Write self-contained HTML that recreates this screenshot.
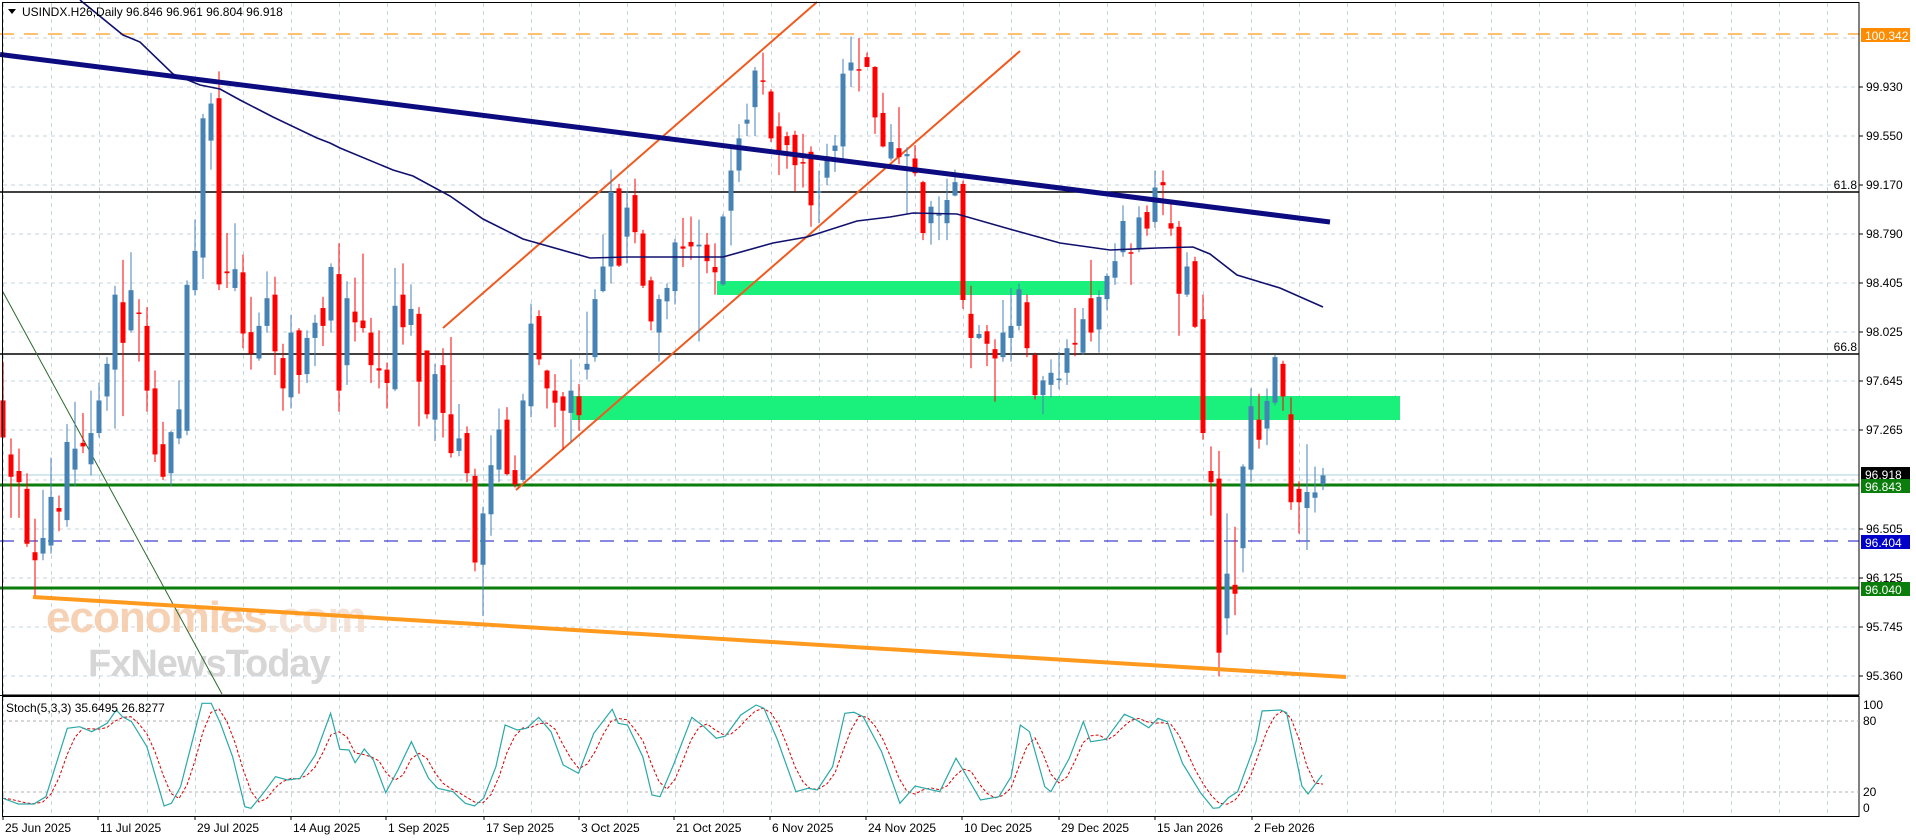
<!DOCTYPE html>
<html><head><meta charset="utf-8"><style>
html,body{margin:0;padding:0;background:#fff;}
svg{display:block;font-family:"Liberation Sans",sans-serif;}
</style></head><body>
<svg id="c" width="1916" height="840" viewBox="0 0 1916 840" xmlns="http://www.w3.org/2000/svg">
<rect width="1916" height="840" fill="#fff"/>
<g id="grid"></g>
<!-- watermark -->
<text x="46" y="632" font-size="44" font-weight="bold" fill="#f6c9a6" opacity="0.85" font-family="Liberation Sans,sans-serif" letter-spacing="-1">economies<tspan fill="#f3ddd0">.com</tspan></text>
<text x="88" y="676" font-size="38" font-weight="bold" fill="#d6d6d6" letter-spacing="-1">FxNewsToday</text>
<!-- zones -->
<rect x="717" y="281" width="390" height="14" fill="#1af07c"/>
<rect x="572" y="396" width="828" height="24" fill="#1af07c"/>
<!-- horizontal levels -->
<line x1="0" y1="34" x2="1859" y2="34" stroke="#ff9a1f" stroke-width="1.3" stroke-dasharray="14,10"/>
<line x1="0" y1="475" x2="1859" y2="475" stroke="#a8d0dc" stroke-width="1"/>
<line x1="0" y1="192" x2="1859" y2="192" stroke="#000" stroke-width="1.6"/>
<line x1="0" y1="354" x2="1859" y2="354" stroke="#000" stroke-width="1.6"/>
<line x1="0" y1="485" x2="1859" y2="485" stroke="#0a7d0a" stroke-width="3"/>
<line x1="0" y1="588" x2="1859" y2="588" stroke="#0a7d0a" stroke-width="3"/>
<line x1="0" y1="541" x2="1859" y2="541" stroke="#1010c0" stroke-width="1" stroke-dasharray="14,10"/>
<text x="1857" y="189" font-size="12" text-anchor="end" fill="#000">61.8</text>
<text x="1857" y="351" font-size="12" text-anchor="end" fill="#000">66.8</text>
<!-- trend lines -->
<line x1="3" y1="292" x2="222" y2="694" stroke="#2a6a2a" stroke-width="1"/>
<line x1="443" y1="328" x2="817" y2="2" stroke="#f05a1e" stroke-width="2"/>
<line x1="516" y1="490" x2="1020" y2="51" stroke="#f05a1e" stroke-width="2"/>
<g id="candles"></g>
<polyline id="ma" fill="none" stroke="#10106e" stroke-width="1.6" points=""/>
<line x1="0" y1="54.5" x2="1330" y2="222" stroke="#0c0c80" stroke-width="5"/>
<line x1="33" y1="597" x2="1346" y2="677" stroke="#ff9a1f" stroke-width="4"/>
<!-- title -->
<polygon points="8,9 16,9 12,14" fill="#000"/>
<text x="22" y="16" font-size="12" fill="#000">USINDX.H26,Daily  96.846 96.961 96.804 96.918</text>
<!-- frames -->
<rect x="2.5" y="2.5" width="1856.5" height="692.5" fill="none" stroke="#000" stroke-width="1"/>
<rect x="2.5" y="696.5" width="1856.5" height="120" fill="none" stroke="#000" stroke-width="1"/>
<line x1="0" y1="695.5" x2="1859" y2="695.5" stroke="#000" stroke-width="1"/>
<!-- stoch -->
<line x1="3" y1="721" x2="1859" y2="721" stroke="#b0b0b0" stroke-dasharray="3,3"/>
<line x1="3" y1="792" x2="1859" y2="792" stroke="#b0b0b0" stroke-dasharray="3,3"/>
<polyline id="sig" fill="none" stroke="#d80000" stroke-width="1" stroke-dasharray="3,2" points=""/>
<polyline id="main" fill="none" stroke="#2aa8a8" stroke-width="1.2" points=""/>
<text x="6" y="712" font-size="12" fill="#000">Stoch(5,3,3) 35.6495 26.8277</text>
<g id="axis" font-size="12" fill="#000"></g>
</svg>
<script>
var NS="http://www.w3.org/2000/svg";
function el(p,t,a,txt){var e=document.createElementNS(NS,t);for(var k in a)e.setAttribute(k,a[k]);if(txt!==undefined)e.textContent=txt;document.getElementById(p).appendChild(e);return e;}
// grid
for(var x=3.5;x<1859;x+=48){el('grid','line',{x1:x,y1:3,x2:x,y2:695,stroke:'#c4d6de','stroke-dasharray':'4,4'});el('grid','line',{x1:x,y1:697,x2:x,y2:816,stroke:'#c4d6de','stroke-dasharray':'4,4'});}
var gy=[38,87,136,185,234,283,332,381,430,480,529,578,627,676];
gy.forEach(function(y){el('grid','line',{x1:3,y1:y,x2:1859,y2:y,stroke:'#c4d6de','stroke-dasharray':'4,4'});});
// candles [top,bottom,high,low,up]
var C=[[897,980,810,980,0],[1018,1068,982,1160,0],[1055,1080,1005,1160,0],[1095,1218,1060,1225,0],[1237,1255,1162,1335,0],[1205,1240,1097,1255,1],[1113,1222,1025,1240,1],[1138,1146,1110,1190,0],[990,1165,950,1180,1],[1005,1052,900,1090,1],[992,1000,925,1015,0],[970,1040,875,1065,1],[897,970,857,980,1],[815,888,800,920,1],[660,828,640,960,1],[677,768,582,932,0],[650,740,565,745,1],[700,703,670,810,0],[730,875,688,922,0],[870,1018,830,1035,0],[995,1068,945,1075,0],[968,1060,965,1090,1],[917,982,852,995,1],[638,965,628,975,1],[562,650,492,662,1],[265,577,255,625,1],[232,315,208,380,1],[220,637,160,650,0],[608,612,522,645,0],[603,645,500,652,1],[610,747,570,780,0],[744,792,665,828,0],[730,803,700,808,1],[668,730,608,745,1],[660,787,620,840,0],[802,870,770,920,0],[745,890,705,915,1],[740,840,735,882,0],[757,838,740,858,1],[723,757,705,820,1],[690,730,665,775,0],[598,718,590,745,1],[614,875,545,922,0],[668,818,630,862,1],[698,722,622,765,0],[718,735,568,745,0],[745,818,712,858,0],[825,830,740,870,0],[828,858,812,915,0],[685,872,600,876,1],[660,733,590,772,0],[692,728,637,752,1],[703,855,688,955,0],[785,928,785,938,0],[838,940,815,988,1],[818,925,780,980,0],
[928,1015,755,1025,0],[982,1010,905,1022,1],[970,1060,955,1080,0],[1066,1260,1050,1280,0],[1150,1265,1135,1380,1],[1042,1152,975,1200,1],[962,1052,915,1080,1],[940,1062,912,1065,0],[1053,1085,1020,1092,0],[897,1075,882,1080,1],[725,910,680,935,1],[708,805,695,818,0],[830,870,828,915,0],[875,902,838,957,0],[888,920,878,1008,0],[875,925,805,990,1],[888,930,860,965,0],[815,828,698,850,1],[670,800,648,810,1],[597,652,525,655,1],[430,597,380,635,1],[422,595,412,598,0],[465,530,428,590,1],[437,520,400,545,0],[523,640,515,645,0],[628,720,620,740,0],[670,745,660,810,1],[645,675,635,715,1],[543,652,535,682,1],[552,557,488,598,0],[542,552,485,582,0],[548,552,492,765,1],[548,585,522,612,0],[598,610,545,660,0],[485,637,480,640,1],[382,472,330,550,1],[310,382,278,408,1],[268,277,232,305,1],[158,240,150,305,1],[180,183,118,212,0],[205,310,200,318,0],[283,345,252,392,0],[305,325,295,378,0],[302,370,293,428,0],[363,366,300,420,0],[340,460,328,508,0],[428,432,382,500,1],[350,398,322,415,1],[326,338,302,385,1],[165,328,132,355,1],[140,158,82,195,1],[155,158,85,205,0],[128,150,118,150,0],[150,263,148,300,0],[253,328,208,330,0],
[318,355,278,360,1],[332,352,240,368,0],[345,350,330,478,1],[355,388,325,395,0],[408,522,405,538,0],[463,500,450,548,1],[480,482,440,538,1],[448,500,400,538,1],[408,438,380,440,1],[412,672,405,692,0],[703,757,640,825,0],[748,757,728,760,1],[742,770,728,820,0],[782,803,760,900,0],[745,800,672,810,1],[730,757,645,810,1],[648,730,635,740,1],[677,780,660,800,0],[795,885,790,895,0],[852,885,842,928,1],[835,862,805,890,1],[848,850,788,872,1],[780,835,760,862,1],[768,772,690,798,0],[715,790,690,795,1],[668,745,582,765,0],[665,738,650,790,1],[618,670,612,695,1],[585,622,545,638,1],[495,565,460,575,1],[565,568,545,638,0],[487,558,462,565,1],[475,512,460,528,0],[420,497,382,510,1],[408,415,382,482,0],[500,512,448,528,0],[508,658,495,752,0],[597,660,565,665,1],[585,732,575,735,0],[715,970,660,985,0],[1055,1080,1000,1155,0],[1072,1462,1010,1515,0],[1285,1385,1150,1422,1],[1310,1330,1180,1378,0],[1045,1228,1040,1282,1],[910,1052,870,1080,1],[940,985,882,1005,0],[898,960,870,997,1],[800,902,795,908,1],[815,888,808,920,0],[928,1125,890,1142,0],[1095,1125,1078,1195,0],[1102,1138,995,1232,1],[1103,1115,1045,1148,1],[1065,1085,1048,1098,1]];
var S=2.24;
C.forEach(function(c,i){var x=3+8*i,col=c[4]?'#4682b4':'#f00';
 el('candles','line',{x1:x,y1:c[2]/S,x2:x,y2:c[3]/S,stroke:col,'stroke-width':1});
 var t=c[0]/S,b=c[1]/S,h=Math.max(b-t,1.5);
 el('candles','rect',{x:x-2.5,y:t,width:5,height:h,fill:col});});
// MA
document.getElementById('ma').setAttribute('points',"80,0 123,35 140,42 173,74 200,85 220,89 240,100 273,117 317,138 330,143 340,148 393,170 413,176 450,196 483,219 523,239 590,258 627,257 723,257 773,243 807,237 857,221 890,217 913,213 957,214 1013,230 1060,243 1110,250 1157,248 1193,247 1210,254 1237,275 1280,288 1323,307");
// stoch
var z3=[[5,355],[30,372],[55,372],[75,350],[110,145],[130,140],[150,155],[175,130],[190,90],[200,110],[215,125],[240,200],[268,378],[280,370],[295,320],[330,70],[345,70],[360,130],[380,230],[400,380],[410,385],[430,340],[450,290],[470,300],[490,295],[515,225],[540,100],[555,208],[570,210],[580,248],[595,207],[610,240],[630,338],[650,270],[672,185],[700,295],[715,325],[740,335],[760,370],[775,378],[790,355],[810,260],[825,135],[845,150],[860,145],[880,112],[900,155],[920,255],[945,280],[970,160],[1000,88],[1010,130],[1025,135],[1050,230],[1065,345],[1078,350],[1100,255],[1130,112],[1150,140],[1170,175],[1185,168],[1210,105],[1235,75],[1248,85],[1270,180],[1300,335],[1320,325],[1335,330],[1360,260],[1380,100],[1395,97],[1410,110],[1440,215],[1470,370],[1495,318],[1535,335]];
var z4=[[0,235],[10,265],[40,360],[70,350],[90,290],[105,135],[120,155],[145,320],[155,335],[185,235],[208,125],[220,185],[245,178],[275,103],[290,115],[315,143],[330,115],[345,125],[370,250],[400,340],[420,385],[430,383],[445,353],[460,335],[490,185],[500,93],[530,90],[540,98],[565,318],[575,342],[598,285]];
var P=[];z3.forEach(function(p){P.push([p[0]*0.6122,680+p[1]/3]);});z4.forEach(function(p){P.push([956+p[0]*0.6122,680+p[1]/3]);});
document.getElementById('main').setAttribute('points',P.map(function(p){return p[0].toFixed(1)+','+p[1].toFixed(1);}).join(' '));
function interp(x){for(var k=0;k<P.length-1;k++){if(x>=P[k][0]&&x<=P[k+1][0]){var f=(x-P[k][0])/(P[k+1][0]-P[k][0]||1);return P[k][1]+f*(P[k+1][1]-P[k][1]);}}return x<P[0][0]?P[0][1]:P[P.length-1][1];}
var v=[];for(var i=0;i<=165;i++)v.push(interp(3+8*i));
var sp=[];for(var i=0;i<=165;i++){var a=v[Math.max(i-2,0)],b=v[Math.max(i-1,0)];sp.push((3+8*i)+','+((a+b+v[i])/3).toFixed(1));}
document.getElementById('sig').setAttribute('points',sp.join(' '));
// axis labels
var L=[[87,'99.930'],[136,'99.550'],[185,'99.170'],[234,'98.790'],[283,'98.405'],[332,'98.025'],[381,'97.645'],[430,'97.265'],[529,'96.505'],[578,'96.125'],[627,'95.745'],[676,'95.360']];
L.forEach(function(l){el('axis','line',{x1:1859,y1:l[0],x2:1863,y2:l[0],stroke:'#000'});el('axis','text',{x:1866,y:l[0]+4},l[1]);});
function box(y,bg,t,fg){el('axis','rect',{x:1861,y:y-7,width:49,height:14,fill:bg});el('axis','text',{x:1865,y:y+5,fill:fg},t);}
box(35,'#ff8c00','100.342','#fff');box(474,'#000','96.918','#fff');box(486,'#0a7d0a','96.843','#fff');box(542,'#0000c8','96.404','#fff');box(589,'#0a7d0a','96.040','#fff');
[[705,'100'],[721,'80'],[792,'20'],[808,'0']].forEach(function(l){el('axis','text',{x:1863,y:l[0]+4},l[1]);});
var D=[[3,'25 Jun 2025'],[98,'11 Jul 2025'],[195,'29 Jul 2025'],[291,'14 Aug 2025'],[386,'1 Sep 2025'],[484,'17 Sep 2025'],[579,'3 Oct 2025'],[674,'21 Oct 2025'],[770,'6 Nov 2025'],[866,'24 Nov 2025'],[962,'10 Dec 2025'],[1059,'29 Dec 2025'],[1155,'15 Jan 2026'],[1252,'2 Feb 2026']];
D.forEach(function(d){el('axis','line',{x1:d[0],y1:816,x2:d[0],y2:820,stroke:'#000'});el('axis','text',{x:d[0]+2,y:832},d[1]);});
</script>
</body></html>
